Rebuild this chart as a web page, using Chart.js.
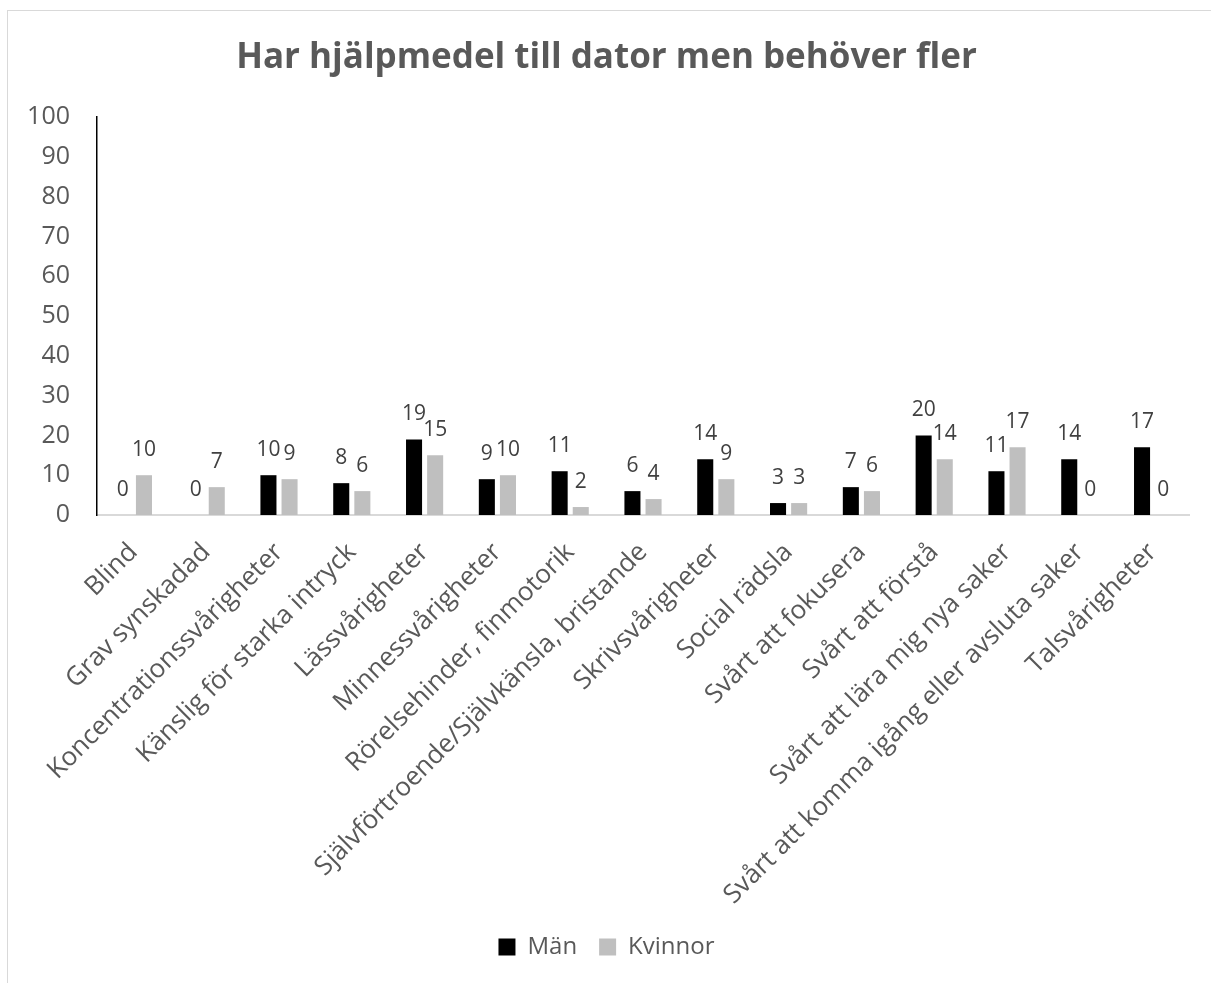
<!DOCTYPE html>
<html>
<head>
<meta charset="utf-8">
<script src="https://cdn.jsdelivr.net/npm/chart.js@4/dist/chart.umd.min.js"></script>
<style>
  html, body { margin: 0; padding: 0; background: #fff; overflow: hidden; }
  #frame { position: absolute; left: 7px; top: 10px; width: 1300px; height: 1100px; border: 1px solid #d9d9d9; box-sizing: border-box; }
  #chart { position: absolute; left: 8px; top: 11px; }
</style>
</head>
<body>
<div id="frame"></div>
<canvas id="chart" width="1210" height="972"></canvas>
<script>
/* ---------- DATA ---------- */
const categories = [
    'Blind',
    'Grav synskadad',
    'Koncentrationssvårigheter',
    'Känslig för starka intryck',
    'Lässvårigheter',
    'Minnessvårigheter',
    'Rörelsehinder, finmotorik',
    'Självförtroende/Självkänsla, bristande',
    'Skrivsvårigheter',
    'Social rädsla',
    'Svårt att fokusera',
    'Svårt att förstå',
    'Svårt att lära mig nya saker',
    'Svårt att komma igång eller avsluta saker',
    'Talsvårigheter'
];
const manValues     = [0, 0, 10, 8, 19, 9, 11, 6, 14, 3, 7, 20, 11, 14, 17];
const kvinnorValues = [10, 7, 9, 6, 15, 10, 2, 4, 9, 3, 6, 14, 17, 0, 0];
const yTicks = [0, 10, 20, 30, 40, 50, 60, 70, 80, 90, 100];

const FONT = "'Open Sans', 'Liberation Sans', sans-serif";
const TEXT = '#595959';

/* ---- value labels above bars ---- */
const valueLabels = {
    id: 'valueLabels',
    afterDatasetsDraw(chart) {
        const ctx = chart.ctx;
        ctx.save();
        ctx.font = '21px ' + FONT;
        ctx.fillStyle = '#404040';
        ctx.textAlign = 'center';
        ctx.textBaseline = 'middle';
        chart.data.datasets.forEach((ds, i) => {
            chart.getDatasetMeta(i).data.forEach((bar, j) => {
                ctx.fillText(String(ds.data[j]), bar.x, bar.y - 25);
            });
        });
        ctx.restore();
    }
};

new Chart(document.getElementById('chart'), {
    type: 'bar',
    data: {
        labels: categories,
        datasets: [
            { label: 'Män', data: manValues, backgroundColor: '#000000' },
            { label: 'Kvinnor', data: kvinnorValues, backgroundColor: '#bfbfbf' }
        ]
    },
    options: {
        responsive: false,
        animation: false,
        categoryPercentage: 0.58,
        barPercentage: 0.76,
        layout: { padding: { left: 16, right: 29, top: 0, bottom: 14 } },
        plugins: {
            title: {
                display: true,
                text: 'Har hjälpmedel till dator men behöver fler',
                color: TEXT,
                font: { family: FONT, size: 35, weight: 'bold' },
                padding: { top: 26, bottom: 38 }
            },
            legend: {
                position: 'bottom',
                labels: {
                    color: TEXT,
                    font: { family: FONT, size: 24 },
                    boxWidth: 17,
                    boxHeight: 17,
                    padding: 22
                }
            },
            tooltip: { enabled: false }
        },
        scales: {
            x: {
                grid: { display: false },
                border: { display: true, color: '#d9d9d9', width: 2 },
                ticks: {
                    color: TEXT,
                    font: { family: FONT, size: 26 },
                    maxRotation: 45,
                    minRotation: 45,
                    autoSkip: false,
                    padding: 14
                },
                afterFit: s => { s.height = 398; }
            },
            y: {
                min: 0,
                max: 100,
                grid: { display: false },
                border: { display: true, color: '#000000', width: 1.5 },
                afterBuildTicks: s => { s.ticks = yTicks.map(v => ({ value: v })); },
                ticks: {
                    color: TEXT,
                    font: { family: FONT, size: 25 },
                    padding: 19
                },
                afterFit: s => { s.width = 73; }
            }
        }
    },
    plugins: [valueLabels]
});
</script>
</body>
</html>
